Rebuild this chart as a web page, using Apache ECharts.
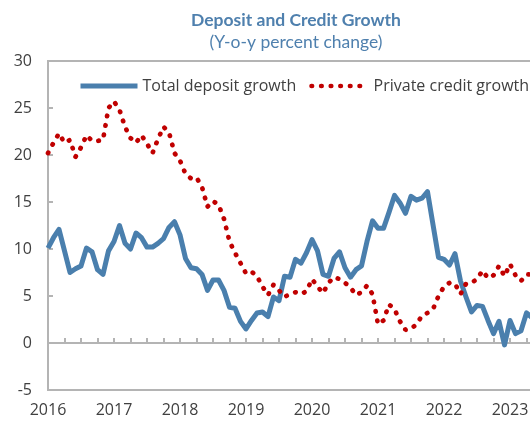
<!DOCTYPE html>
<html>
<head>
<meta charset="utf-8">
<script src="https://cdn.jsdelivr.net/npm/echarts@6/dist/echarts.min.js"></script>
<style>
  html, body { margin: 0; padding: 0; background: #fff; }
  #chart { width: 530px; height: 426px; }
</style>
</head>
<body>
<div id="chart"></div>
<script>
// monthly, Jan 2016 onward
const depositGrowth = [
  10.1, 11.2, 12.1, 9.8, 7.5, 7.9, 8.2, 10.1, 9.7, 7.8, 7.3, 9.8,
  10.8, 12.5, 10.6, 10.0, 11.7, 11.2, 10.2, 10.2, 10.6, 11.1, 12.3, 12.9,
  11.5, 9.0, 8.0, 7.9, 7.3, 5.6, 6.7, 6.7, 5.6, 3.8, 3.7, 2.3,
  1.5, 2.4, 3.2, 3.3, 2.8, 4.9, 4.5, 7.1, 7.0, 8.9, 8.5, 9.6,
  11.0, 9.8, 7.3, 7.1, 9.0, 9.7, 8.0, 7.0, 7.8, 8.2, 10.8, 13.0,
  12.2, 12.2, 13.9, 15.7, 14.9, 13.8, 15.6, 15.2, 15.4, 16.1, 12.6, 9.1,
  8.9, 8.3, 9.5, 6.6, 4.9, 3.3, 4.0, 3.9, 2.4, 1.0, 2.3, -0.2,
  2.4, 1.0, 1.3, 3.2, 2.7
];
const creditGrowth = [
  20.2, 21.3, 22.3, 21.3, 21.6, 19.8, 20.8, 22.1, 21.5, 21.5, 21.6, 25.0,
  25.7, 24.8, 23.0, 21.8, 21.3, 22.1, 21.2, 20.2, 21.7, 23.0, 22.4, 20.2,
  19.4, 18.0, 17.5, 17.6, 16.6, 14.5, 15.1, 14.7, 13.2, 10.8, 9.6, 8.5,
  7.4, 7.6, 7.1, 6.0, 5.1, 6.2, 5.6, 4.9, 5.2, 5.4, 5.2, 5.5,
  6.8, 6.0, 5.3, 6.4, 7.0, 6.8, 6.4, 5.9, 5.1, 5.4, 6.1, 5.2,
  2.0, 2.4, 4.1, 3.6, 2.3, 1.4, 1.5, 2.0, 2.9, 3.2, 3.6, 5.0,
  6.0, 6.4, 6.3, 5.2, 6.3, 6.4, 6.8, 7.7, 6.9, 7.2, 8.2, 7.1,
  8.4, 7.2, 6.6, 7.3, 7.3
];
const startYear = 2016;
const months = [];
for (let i = 0; i < depositGrowth.length; i++) {
  const y = startYear + Math.floor(i / 12);
  const m = (i % 12) + 1;
  months.push(y + '-' + (m < 10 ? '0' + m : m));
}

const gray = '#b4b4b4';
const textColor = '#404040';
const font = 'Open Sans';
const blue = '#4A7FAD';
const red = '#C00000';
const depositLine = { color: blue, width: 5, join: 'round' };
const creditLine = { color: red, width: 4.7, type: [0.5, 9.1], cap: 'round' };

const chart = echarts.init(document.getElementById('chart'));

chart.setOption({
  animation: false,
  backgroundColor: '#fff',
  title: {
    text: 'Deposit and Credit Growth',
    subtext: '(Y-o-y percent change)',
    left: 291,
    top: 6,
    textAlign: 'center',
    itemGap: 4,
    textStyle: { color: '#4F80AE', fontSize: 17.5, fontWeight: 'bold', fontFamily: 'Lato' },
    subtextStyle: { color: '#4F80AE', fontSize: 17.5, fontFamily: 'Lato' }
  },
  legend: {
    left: 78,
    top: 78,
    width: 470,
    padding: 0,
    itemWidth: 57,
    itemHeight: 12,
    itemGap: 13,
    itemStyle: { opacity: 0 },
    textStyle: { color: textColor, fontSize: 16, fontFamily: font },
    data: [
      { name: 'Total deposit growth', lineStyle: depositLine },
      { name: 'Private credit growth', lineStyle: creditLine }
    ]
  },
  grid: {
    left: 48,
    top: 61,
    right: -2,
    bottom: 36,
    show: true,
    borderColor: gray,
    borderWidth: 2,
    outerBoundsMode: 'none'
  },
  xAxis: [
    {
      type: 'category',
      boundaryGap: false,
      data: months,
      axisLine: { onZero: true, lineStyle: { color: gray, width: 2 } },
      axisTick: {
        inside: true,
        length: 5,
        interval: (i) => i % 3 === 0,
        lineStyle: { color: gray, width: 2 }
      },
      axisLabel: { show: false },
      splitLine: { show: false }
    },
    {
      type: 'category',
      position: 'bottom',
      boundaryGap: false,
      data: months,
      axisLine: { show: false, onZero: false },
      axisTick: { show: false },
      axisLabel: {
        interval: (i) => i % 12 === 0,
        formatter: (v) => v.slice(0, 4),
        color: textColor,
        fontSize: 16,
        fontFamily: font,
        margin: 12
      },
      splitLine: { show: false }
    }
  ],
  yAxis: {
    type: 'value',
    min: -5,
    max: 30,
    interval: 5,
    axisLine: { show: false },
    axisTick: { show: true, inside: true, length: 5, lineStyle: { color: gray, width: 2 } },
    axisLabel: { color: textColor, fontSize: 16, fontFamily: font, margin: 16 },
    splitLine: { show: false }
  },
  series: [
    {
      name: 'Total deposit growth',
      type: 'line',
      xAxisIndex: 0,
      data: depositGrowth,
      symbol: 'none',
      showSymbol: false,
      itemStyle: { color: blue },
      lineStyle: depositLine
    },
    {
      name: 'Private credit growth',
      type: 'line',
      xAxisIndex: 0,
      data: creditGrowth,
      symbol: 'none',
      showSymbol: false,
      itemStyle: { color: red },
      lineStyle: creditLine
    }
  ]
});
</script>
</body>
</html>
